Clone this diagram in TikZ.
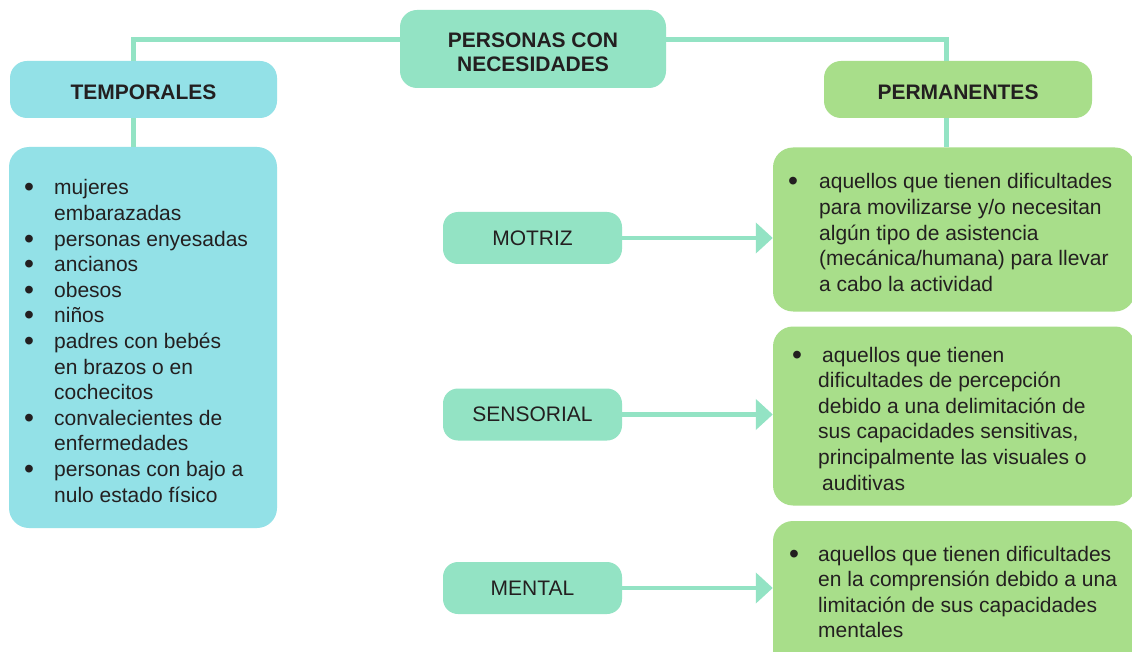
\documentclass[tikz,border=0pt]{standalone}
\usepackage{fontspec}
\setmainfont{Liberation Sans}
\usetikzlibrary{arrows.meta}
\definecolor{mint}{HTML}{93E3C4}
\definecolor{cyanb}{HTML}{93E1E7}
\definecolor{greenb}{HTML}{A8DE8A}
\definecolor{ink}{HTML}{231F20}
\newcommand{\bodyfont}{\fontsize{21}{25.6}\selectfont}
\newcommand{\bul}{\raisebox{-2pt}{\scalebox{1.35}{•}}}
\begin{document}
\begin{tikzpicture}[x=1pt,y=-1pt,
  conn/.style={draw=mint, line width=5pt},
  arr/.style={draw=mint, line width=4.5pt, -{Triangle[length=17pt,width=30pt]}},
  titlebox/.style={rounded corners=17pt, inner sep=0pt, text=ink, align=center,
    font=\bfseries\fontsize{21}{24}\selectfont},
  bigbox/.style={rounded corners=20pt, inner sep=0pt},
  kindbox/.style={fill=mint, rounded corners=15pt, inner sep=0pt, text=ink,
    minimum width=179pt, minimum height=52pt, font=\bodyfont},
  listtext/.style={inner sep=0pt, anchor=base west, text=ink, font=\bodyfont}
]
\clip (0,0) rectangle (1132,652);
\fill[white] (0,0) rectangle (1132,652);

% title and category boxes
\node[titlebox, fill=mint, minimum width=266pt, minimum height=78pt, text height=45pt, text depth=0pt] (root) at (533,49) {PERSONAS CON\\NECESIDADES};
\node[titlebox, fill=cyanb, minimum width=267pt, minimum height=57pt, text height=20pt, text depth=0pt] (temp) at (143.5,89.5) {TEMPORALES};
\node[titlebox, fill=greenb, minimum width=268pt, minimum height=57pt, text height=20pt, text depth=0pt] (perm) at (958,89.5) {PERMANENTES};

% content boxes
\node[bigbox, fill=cyanb, minimum width=268pt, minimum height=381pt] (tlist) at (143,337.5) {};
\node[bigbox, fill=greenb, minimum width=362pt, minimum height=164pt] (rb1) at (954,229.5) {};
\node[bigbox, fill=greenb, minimum width=362pt, minimum height=179pt] (rb2) at (954,416) {};
\node[bigbox, fill=greenb, minimum width=362pt, minimum height=160pt] (rb3) at (954,601) {};

% kinds
\node[kindbox] (motriz) at (532.5,238) {MOTRIZ};
\node[kindbox] (sens) at (532.5,414.5) {SENSORIAL};
\node[kindbox] (mental) at (532.5,588) {MENTAL};

% connectors
\coordinate (tj) at (133,0);
\coordinate (pj) at (946,0);
\draw[conn] ([yshift=9pt]root.west) -| (tj |- temp.north);
\draw[conn] ([yshift=9pt]root.east) -| (pj |- perm.north);
\draw[conn] (tj |- temp.south) -- (tj |- tlist.north);
\draw[conn] (pj |- perm.south) -- (pj |- rb1.north);
\draw[arr] (motriz.east) -- (rb1.west |- motriz.east);
\draw[arr] (sens.east) -- (rb2.west |- sens.east);
\draw[arr] (mental.east) -- (rb3.west |- mental.east);

% texts
\node[listtext] (tlisttxt) at (24,195) {\begin{tabular}[t]{@{}p{30pt}@{}l@{}}
\bul& mujeres\\ & embarazadas\\
\bul& personas enyesadas\\
\bul& ancianos\\
\bul& obesos\\
\bul& niños\\
\bul& padres con bebés\\ & en brazos o en\\ & cochecitos\\
\bul& convalecientes de\\ & enfermedades\\
\bul& personas con bajo a\\ & nulo estado físico
\end{tabular}};
\node[listtext] (rb1txt) at (788,189) {\begin{tabular}[t]{@{}p{31pt}@{}l@{}}
\bul& aquellos que tienen dificultades\\
 & para movilizarse y/o necesitan\\
 & algún tipo de asistencia\\
 & (mecánica/humana) para llevar\\
 & a cabo la actividad
\end{tabular}};
\node[listtext] (rb2txt) at (792,362) {\begin{tabular}[t]{@{}p{26pt}@{}l@{}}
\bul& \hspace{4pt}aquellos que tienen\\
 & dificultades de percepción\\
 & debido a una delimitación de\\
 & sus capacidades sensitivas,\\
 & principalmente las visuales o\\
 & \hspace{4pt}auditivas
\end{tabular}};
\node[listtext] (rb3txt) at (789,561) {\begin{tabular}[t]{@{}p{29pt}@{}l@{}}
\bul& aquellos que tienen dificultades\\
 & en la comprensión debido a una\\
 & limitación de sus capacidades\\
 & mentales
\end{tabular}};
\end{tikzpicture}
\end{document}
